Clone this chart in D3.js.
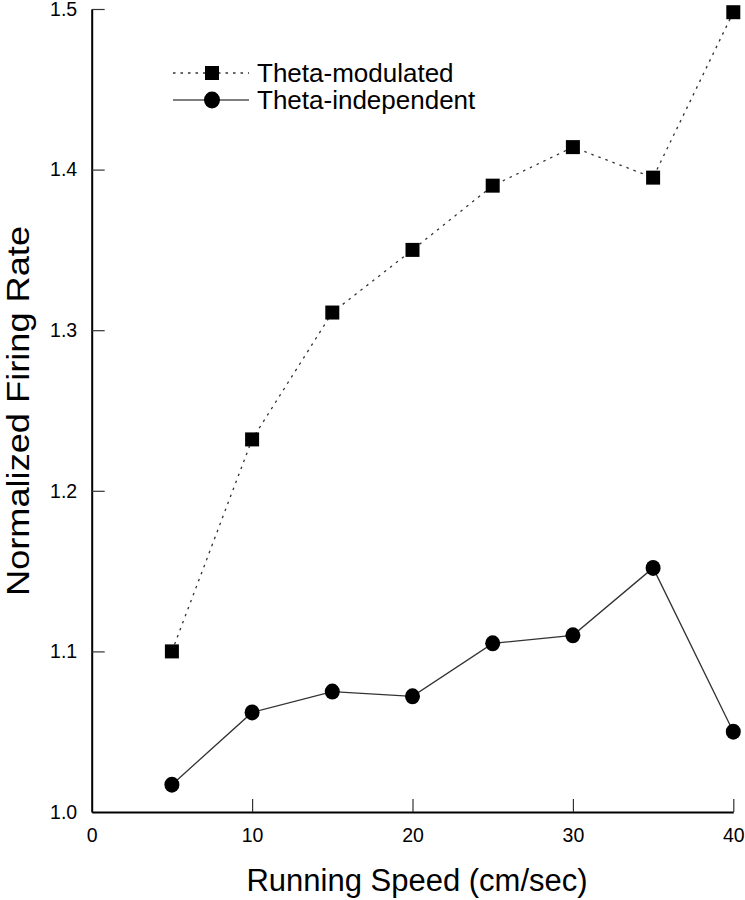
<!DOCTYPE html>
<html>
<head>
<meta charset="utf-8">
<script src="https://cdn.jsdelivr.net/npm/d3@7"></script>
<style>
  html, body { margin: 0; padding: 0; background: #fff; }
  svg { display: block; font-family: "Liberation Sans", Arial, Helvetica, sans-serif; }
</style>
</head>
<body>
<svg id="chart" width="745" height="900"></svg>
<script>
// ---- data ----
const speeds = [5, 10, 15, 20, 25, 30, 35, 40];
const thetaModulated = [1.100, 1.232, 1.311, 1.350, 1.390, 1.414, 1.395, 1.498];
const thetaIndependent = [1.017, 1.062, 1.075, 1.072, 1.105, 1.110, 1.152, 1.050];
const xTicks = [0, 10, 20, 30, 40];
const yTicks = [1.0, 1.1, 1.2, 1.3, 1.4, 1.5];
const seriesNames = ["Theta-modulated", "Theta-independent"];

const svg = d3.select("#chart");
const x = d3.scaleLinear().domain([0, 40]).range([91.7, 733.3]);
const y = d3.scaleLinear().domain([1.0, 1.5]).range([812, 9]);

// axes
const xAxis = d3.axisBottom(x).tickValues(xTicks).tickFormat(d3.format("d"))
  .tickSizeInner(-13).tickSizeOuter(0).tickPadding(16);
const yAxis = d3.axisLeft(y).tickValues(yTicks).tickFormat(d3.format(".1f"))
  .tickSizeInner(-13).tickSizeOuter(0).tickPadding(14.5);

const gx = svg.append("g").attr("transform", `translate(0,${y(1.0)})`).call(xAxis);
const gy = svg.append("g").attr("transform", `translate(${x(0)},0)`).call(yAxis);

[gx, gy].forEach(g => {
  g.select(".domain").attr("stroke", "#000").attr("stroke-width", 2);
  g.selectAll(".tick line").attr("stroke", "#333").attr("stroke-width", 1.2);
  g.selectAll(".tick text").attr("fill", "#000").attr("font-size", 19.5)
    .attr("font-family", "Liberation Sans, Arial, sans-serif");
});
gx.selectAll(".tick").filter(d => d === 0).select("line").remove();
gy.selectAll(".tick").filter(d => d === 1.0).select("line").remove();

// lines
const modPts = speeds.map((s, i) => [s, thetaModulated[i]]);
const indPts = speeds.map((s, i) => [s, thetaIndependent[i]]);
const line = d3.line().x(d => x(d[0])).y(d => y(d[1]));

svg.append("path").datum(modPts).attr("d", line)
  .attr("fill", "none").attr("stroke", "#333").attr("stroke-width", 1.3)
  .attr("stroke-dasharray", "2.5,5");
svg.append("path").datum(indPts).attr("d", line)
  .attr("fill", "none").attr("stroke", "#333").attr("stroke-width", 1.3);

const sq = 14;
svg.append("g").selectAll("rect").data(modPts).join("rect")
  .attr("x", d => x(d[0]) - sq / 2).attr("y", d => y(d[1]) - sq / 2)
  .attr("width", sq).attr("height", sq).attr("fill", "#000");
svg.append("g").selectAll("ellipse").data(indPts).join("ellipse")
  .attr("cx", d => x(d[0])).attr("cy", d => y(d[1]))
  .attr("rx", 7.5).attr("ry", 8).attr("fill", "#000");

// legend
const lg = svg.append("g");
const lgY = [73, 100];
lg.append("line").attr("x1", 173).attr("x2", 249).attr("y1", lgY[0]).attr("y2", lgY[0])
  .attr("stroke", "#333").attr("stroke-width", 1.3).attr("stroke-dasharray", "2.5,5");
lg.append("rect").attr("x", 212 - sq / 2).attr("y", lgY[0] - sq / 2).attr("width", sq).attr("height", sq).attr("fill", "#000");
lg.append("line").attr("x1", 173).attr("x2", 249).attr("y1", lgY[1]).attr("y2", lgY[1])
  .attr("stroke", "#555").attr("stroke-width", 1.5);
lg.append("ellipse").attr("cx", 212).attr("cy", lgY[1]).attr("rx", 8).attr("ry", 8.5).attr("fill", "#000");
lg.selectAll("text").data(seriesNames).join("text")
  .attr("x", 257).attr("y", (d, i) => lgY[i] + 9)
  .attr("font-size", 26).attr("fill", "#000").text(d => d);

// axis titles
svg.append("text").attr("x", 417).attr("y", 891).attr("text-anchor", "middle")
  .attr("font-size", 31).attr("fill", "#000").text("Running Speed (cm/sec)");
svg.append("text").attr("transform", "translate(29,411) rotate(-90)").attr("text-anchor", "middle")
  .attr("font-size", 32).attr("fill", "#000")
  .attr("textLength", 370).attr("lengthAdjust", "spacingAndGlyphs")
  .text("Normalized Firing Rate");
</script>
</body>
</html>
